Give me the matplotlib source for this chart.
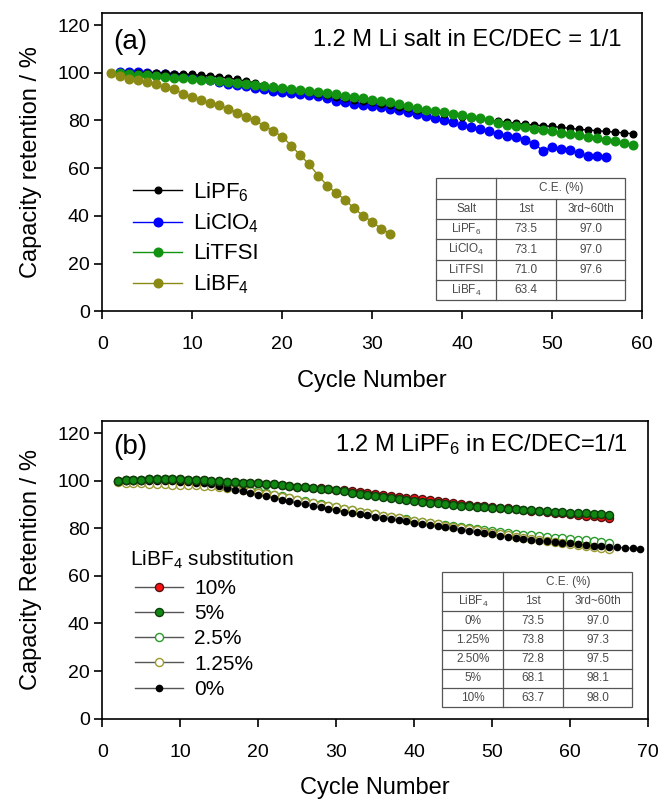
import matplotlib
matplotlib.use("Agg")
import matplotlib.pyplot as plt
import numpy as np

plt.rcParams['font.family'] = ['Liberation Sans', 'DejaVu Sans']
plt.rcParams['mathtext.fontset'] = 'custom'
plt.rcParams['mathtext.rm'] = 'Liberation Sans'
plt.rcParams['mathtext.it'] = 'Liberation Sans'

# ---- panel (a) data: capacity retention vs cycle for different Li salts
pf6_start = 2
pf6 = [100, 100, 100, 100, 100, 99.8, 99.7, 99.5, 99.3, 99.0, 98.7, 98.3, 97.8, 97.2,
       96.5, 95.8, 95.0, 94.3, 93.6, 93.0, 92.4, 91.8, 91.2, 90.6, 90.0, 89.4, 88.8,
       88.2, 87.6, 87.0, 86.4, 85.8, 85.2, 84.6, 84.0, 83.4, 82.8, 82.2, 81.6, 81.0,
       80.5, 80.0, 79.6, 79.2, 78.8, 78.4, 78.1, 77.8, 77.5, 77.1, 76.7, 76.3, 76.0,
       75.7, 75.4, 75.1, 74.8, 74.4]
clo4_start = 2
clo4 = [100.2, 100.5, 100.2, 100.0, 99.7, 99.4, 99.1, 98.7, 98.3, 97.8, 97.0, 96.0,
        95.4, 94.9, 94.3, 93.7, 93.1, 92.5, 92.0, 91.5, 91.0, 90.6, 90.1, 89.5, 88.3,
        87.6, 87.0, 86.4, 86.0, 85.5, 85.0, 84.2, 83.4, 82.6, 81.7, 80.9, 80.1, 79.2,
        78.2, 77.2, 76.4, 75.6, 74.3, 73.6, 73.2, 72.0, 70.0, 67.4, 68.9, 68.2, 67.8,
        66.2, 65.3, 65.0, 64.7]
tfsi_start = 2
tfsi = [100, 99.6, 99.2, 98.9, 98.6, 98.3, 98.0, 97.7, 97.4, 97.1, 96.8, 96.4, 96.0,
        95.6, 95.2, 94.9, 94.5, 94.1, 93.7, 93.3, 92.9, 92.5, 92.0, 91.5, 90.9, 90.3,
        89.8, 89.3, 88.8, 88.2, 87.6, 86.9, 86.1, 85.3, 84.6, 84.0, 83.4, 82.7, 82.1,
        81.5, 80.9, 80.3, 78.8, 78.1, 77.6, 77.1, 76.6, 76.1, 75.6, 74.9, 74.3, 73.7,
        73.2, 72.6, 72.0, 71.3, 70.6, 69.8]
bf4_start = 1
bf4 = [100, 98.6, 97.6, 96.9, 96.0, 95.3, 93.9, 93.0, 91.2, 89.8, 88.8, 87.2, 86.3,
       85.0, 83.3, 81.6, 80.0, 77.7, 75.6, 73.2, 69.5, 65.4, 61.6, 56.9, 52.7, 49.5,
       46.7, 43.1, 40.0, 37.5, 34.6, 32.4]

table_a = [["Salt", "1st", "3rd~60th"],
           ["LiPF$_6$", "73.5", "97.0"],
           ["LiClO$_4$", "73.1", "97.0"],
           ["LiTFSI", "71.0", "97.6"],
           ["LiBF$_4$", "63.4", ""]]

# ---- panel (b) data: LiBF4 substitution in LiPF6 electrolyte
b_start = 2
sub10 = [100, 100.2, 100.3, 100.4, 100.5, 100.5, 100.5, 100.5, 100.5, 100.4, 100.3,
         100.2, 100.0, 99.8, 99.6, 99.4, 99.2, 99.0, 98.8, 98.6, 98.4, 98.1, 97.8, 97.5,
         97.2, 96.9, 96.7, 96.4, 96.2, 96.0, 95.7, 95.3, 94.9, 94.5, 94.1, 93.7, 93.3,
         92.9, 92.5, 92.1, 91.7, 91.3, 90.9, 90.5, 90.1, 89.8, 89.5, 89.2, 88.9, 88.6,
         88.3, 88.0, 87.7, 87.4, 87.1, 86.8, 86.5, 86.2, 85.9, 85.6, 85.3, 85.0, 84.7,
         84.4]
sub5 = [100, 100.2, 100.3, 100.4, 100.5, 100.5, 100.5, 100.5, 100.5, 100.4, 100.3,
        100.2, 100.0, 99.8, 99.6, 99.4, 99.2, 99.0, 98.8, 98.6, 98.4, 98.1, 97.8, 97.5,
        97.2, 96.9, 96.6, 96.3, 96.0, 95.5, 95.0, 94.5, 94.0, 93.5, 93.0, 92.6, 92.2,
        91.8, 91.4, 91.0, 90.7, 90.4, 90.1, 89.8, 89.5, 89.2, 89.0, 88.8, 88.6, 88.4,
        88.2, 88.0, 87.8, 87.6, 87.4, 87.2, 87.0, 86.8, 86.6, 86.4, 86.2, 86.0, 85.8,
        85.6]
sub2_5 = [100, 100.2, 100.3, 100.4, 100.5, 100.5, 100.5, 100.5, 100.4, 100.3, 100.1,
          99.8, 99.4, 98.9, 98.3, 97.6, 96.9, 96.2, 95.5, 94.8, 94.1, 93.4, 92.7, 92.0,
          91.3, 90.6, 90.0, 89.4, 88.8, 88.2, 87.6, 87.0, 86.4, 85.8, 85.2, 84.7, 84.2,
          83.7, 83.2, 82.7, 82.2, 81.7, 81.2, 80.8, 80.4, 80.0, 79.6, 79.2, 78.8, 78.4,
          78.0, 77.6, 77.3, 77.0, 76.7, 76.4, 76.1, 75.8, 75.5, 75.2, 74.9, 74.6, 74.3,
          74.0]
sub1_25 = [99.5, 99.2, 99.0, 98.8, 98.6, 98.5, 98.4, 98.3, 98.2, 98.1, 98.0, 97.8,
           97.6, 97.4, 97.1, 96.7, 96.2, 95.6, 95.0, 94.4, 93.8, 93.2, 92.5, 91.8, 91.1,
           90.5, 89.9, 89.3, 88.8, 88.2, 87.6, 87.0, 86.4, 85.8, 85.2, 84.6, 84.1, 83.6,
           83.1, 82.6, 82.1, 81.6, 81.1, 80.6, 80.1, 79.6, 79.1, 78.6, 78.1, 77.6, 77.0,
           76.4, 75.9, 75.4, 74.9, 74.5, 74.1, 73.7, 73.3, 72.9, 72.5, 72.1, 71.7, 71.3]
sub0 = [100, 100, 100, 100, 100, 100, 100, 99.8, 99.6, 99.4, 99.2, 98.9, 98.4, 97.8,
        97.0, 96.2, 95.5, 94.8, 94.1, 93.4, 92.7, 92.0, 91.3, 90.6, 90.0, 89.4, 88.8,
        88.2, 87.6, 87.0, 86.4, 85.9, 85.4, 84.9, 84.4, 83.9, 83.4, 82.9, 82.4, 81.9,
        81.4, 80.9, 80.4, 79.9, 79.4, 78.9, 78.4, 77.9, 77.4, 76.9, 76.4, 76.0, 75.6,
        75.2, 74.8, 74.5, 74.2, 73.9, 73.6, 73.3, 73.0, 72.7, 72.4, 72.2, 72.0, 71.8,
        71.6, 71.3]

table_b = [["LiBF$_4$", "1st", "3rd~60th"],
           ["0%", "73.5", "97.0"],
           ["1.25%", "73.8", "97.3"],
           ["2.50%", "72.8", "97.5"],
           ["5%", "68.1", "98.1"],
           ["10%", "63.7", "98.0"]]


def cyc(start, vals):
    return np.arange(start, start + len(vals))


def style_axes(ax, xmax, ylabel):
    ax.set_xlim(0, xmax)
    ax.set_ylim(0, 125)
    ax.set_yticks(np.arange(0, 121, 20))
    ax.set_xticks(np.arange(0, xmax + 1, 10))
    ax.tick_params(direction='out', length=6, width=1.2, labelsize=14,
                   top=False, right=False)
    ax.tick_params(axis='x', pad=12)
    ax.tick_params(axis='y', pad=3)
    for s in ax.spines.values():
        s.set_linewidth(1.2)
    ax.set_xlabel('Cycle Number', fontsize=17, labelpad=12)
    ax.set_ylabel(ylabel, fontsize=17, labelpad=11)


def draw_table(ax, rows, x0, x1, x2, x3, ytop, ybot):
    n = len(rows) + 1
    h = (ytop - ybot) / n
    kw = dict(transform=ax.transAxes, color='#555555', lw=0.9, zorder=5)
    ax.add_patch(plt.Rectangle((x0, ybot), x3 - x0, ytop - ybot, fill=True,
                               facecolor='white', edgecolor='#555555', lw=0.9,
                               transform=ax.transAxes, zorder=4))
    for i in range(1, n):
        y = ytop - i * h
        ax.plot([x0, x3], [y, y], **kw)
    ax.plot([x1, x1], [ybot, ytop], **kw)
    ax.plot([x2, x2], [ybot, ytop - h], **kw)
    tk = dict(transform=ax.transAxes, ha='center', va='center', fontsize=8.5,
              color='#4a4a4a', zorder=6)
    ax.text((x1 + x3) / 2, ytop - h / 2, 'C.E. (%)', **tk)
    cx = [(x0 + x1) / 2, (x1 + x2) / 2, (x2 + x3) / 2]
    for r, row in enumerate(rows):
        y = ytop - (r + 1.5) * h
        for c, val in enumerate(row):
            ax.text(cx[c], y, val, **tk)


fig = plt.figure(figsize=(6.6, 8), dpi=100)
ax1 = fig.add_axes([0.155, 0.611, 0.818, 0.3725])
ax2 = fig.add_axes([0.155, 0.1016, 0.827, 0.372])

# panel (a)
ms = 6.2
ax1.plot(cyc(clo4_start, clo4), clo4, '-o', color='#0000ff', ms=ms, lw=1, label='LiClO$_4$')
ax1.plot(cyc(pf6_start, pf6), pf6, '-o', color='black', ms=4.8, lw=1, label='LiPF$_6$')
ax1.plot(cyc(tfsi_start, tfsi), tfsi, '-o', color='#129412', ms=ms, lw=1, label='LiTFSI')
ax1.plot(cyc(bf4_start, bf4), bf4, '-o', color='#8a8a14', ms=ms, lw=1, label='LiBF$_4$')
style_axes(ax1, 60, 'Capacity retention / %')
h, l = ax1.get_legend_handles_labels()
order = [1, 0, 2, 3]
ax1.legend([h[i] for i in order], [l[i] for i in order], loc='upper left',
           bbox_to_anchor=(0.057, 0.44), frameon=False, fontsize=16,
           handlelength=2.2, handletextpad=0.5, labelspacing=0.36,
           borderpad=0, borderaxespad=0)
ax1.text(0.02, 0.903, '(a)', transform=ax1.transAxes, fontsize=20, va='center')
ax1.text(0.962, 0.909, '1.2 M Li salt in EC/DEC = 1/1', transform=ax1.transAxes,
         fontsize=17, ha='right', va='center')
draw_table(ax1, table_a, 0.618, 0.730, 0.840, 0.969, 0.446, 0.036)

# panel (b)
ms_b = 5.8
ax2.plot(cyc(b_start, sub2_5), sub2_5, '-o', color='#555555', mec='#2a9a2a', mfc='white', ms=ms_b, lw=1, label='2.5%')
ax2.plot(cyc(b_start, sub1_25), sub1_25, '-o', color='#555555', mec='#9a9a30', mfc='white', ms=ms_b, lw=1, label='1.25%')
ax2.plot(cyc(b_start, sub0), sub0, '-o', color='#555555', mfc='black', mec='black', ms=4.5, lw=1, label='0%')
ax2.plot(cyc(b_start, sub10), sub10, '-o', color='#555555', mfc='#ff1010', mec='#551010', ms=ms_b, lw=1, label='10%')
ax2.plot(cyc(b_start, sub5), sub5, '-o', color='#555555', mfc='#118811', mec='#0a400a', ms=ms_b, lw=1, label='5%')
style_axes(ax2, 70, 'Capacity Retention / %')
h, l = ax2.get_legend_handles_labels()
order = [3, 4, 0, 1, 2]
ax2.text(0.05, 0.535, 'LiBF$_4$ substitution', transform=ax2.transAxes,
         fontsize=15, va='center', ha='left')
ax2.legend([h[i] for i in order], [l[i] for i in order], loc='upper left',
           bbox_to_anchor=(0.06, 0.47), frameon=False, fontsize=15,
           handlelength=2.3, handletextpad=0.55, labelspacing=0.3,
           borderpad=0, borderaxespad=0)
ax2.text(0.02, 0.914, '(b)', transform=ax2.transAxes, fontsize=20, va='center')
ax2.text(0.962, 0.92, '1.2 M LiPF$_6$ in EC/DEC=1/1', transform=ax2.transAxes,
         fontsize=17, ha='right', va='center')
draw_table(ax2, table_b, 0.623, 0.735, 0.844, 0.971, 0.492, 0.038)

fig.savefig('out.png', dpi=100)
